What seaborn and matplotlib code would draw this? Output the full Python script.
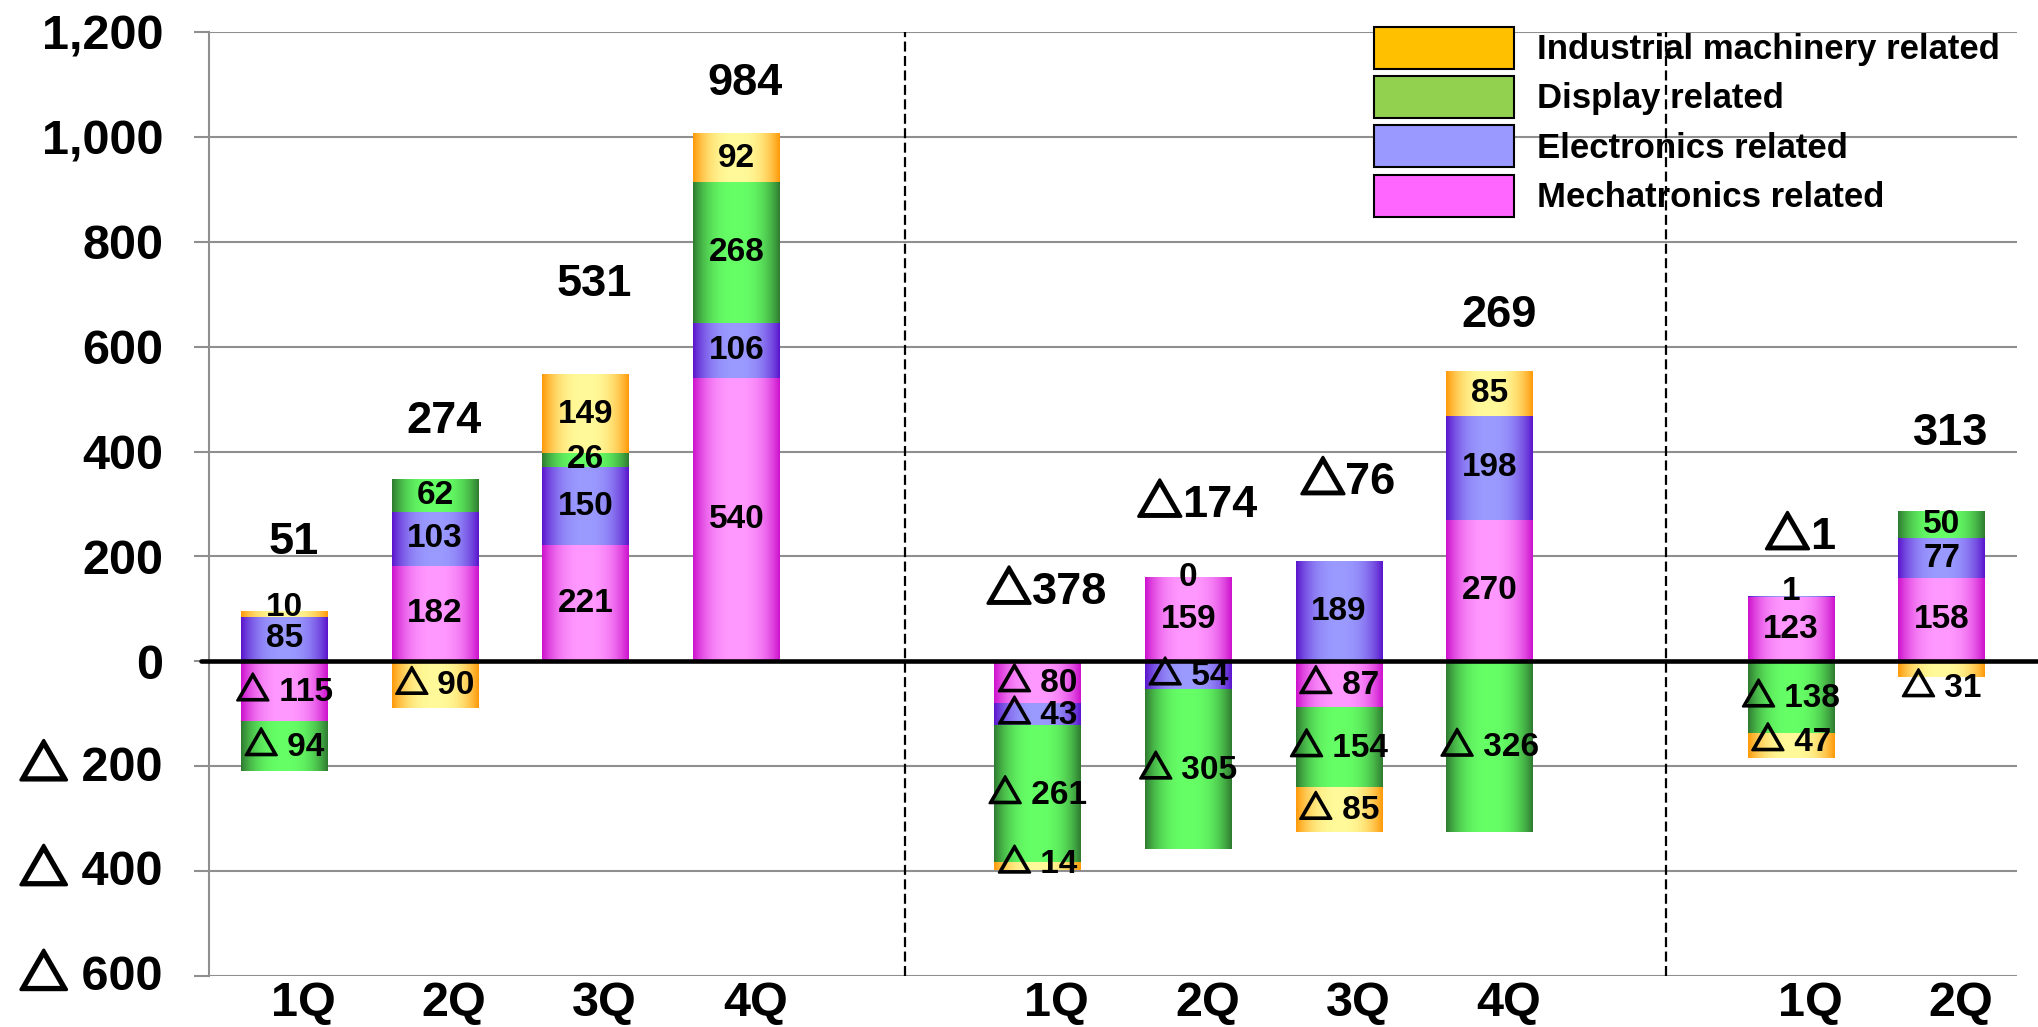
import numpy as np
import pandas as pd
import matplotlib
matplotlib.use("Agg")
import matplotlib.pyplot as plt
import seaborn as sns
from matplotlib.patches import Patch
from matplotlib.colors import to_rgb
from matplotlib.transforms import ScaledTranslation
from matplotlib.offsetbox import TextArea, HPacker, AnnotationBbox
from matplotlib import patheffects

# ---- data -------------------------------------------------------------
periods = ["p1", "p1", "p1", "p1", "p2", "p2", "p2", "p2", "p3", "p3"]
quarters = ["1Q", "2Q", "3Q", "4Q", "1Q", "2Q", "3Q", "4Q", "1Q", "2Q"]

mechatronics = [-115, 182, 221, 540, -80, 159, -87, 270, 123, 158]
electronics = [85, 103, 150, 106, -43, -54, 189, 198, 1, 77]
display = [-94, 62, 26, 268, -261, -305, -154, -326, -138, 50]
industrial = [10, -90, 149, 92, -14, 0, -85, 85, -47, -31]
totals = [51, 274, 531, 984, -378, -174, -76, 269, -1, 313]

series_names = ["Mechatronics related", "Electronics related",
                "Display related", "Industrial machinery related"]
y_ticks = [-600, -400, -200, 0, 200, 400, 600, 800, 1000, 1200]

# ---- styling ----------------------------------------------------------
sns.set_theme(style="white")
plt.rcParams["font.family"] = ["Liberation Sans", "Noto Sans CJK JP", "DejaVu Sans"]
plt.rcParams["font.weight"] = "bold"
for key in ("text.color", "axes.labelcolor", "xtick.labelcolor", "ytick.labelcolor"):
    plt.rcParams[key] = "black"

grid_gray = "#8f8f8f"
legend_colors = {
    "Industrial machinery related": "#FFC000",
    "Display related": "#92D050",
    "Electronics related": "#9999FF",
    "Mechatronics related": "#FF66FF",
}
# (edge colour, centre colour) of the horizontal bar shading
shades = {
    "Mechatronics related": ("#CC10CC", "#FF99FF"),
    "Electronics related": ("#5A14CC", "#9A9AFF"),
    "Display related": ("#2E7A30", "#66FF66"),
    "Industrial machinery related": ("#FF9808", "#FFFA9A"),
}

values = {
    "Mechatronics related": mechatronics,
    "Electronics related": electronics,
    "Display related": display,
    "Industrial machinery related": industrial,
}

slots = [f"{p}-{q}" for p, q in zip(periods, quarters)]
order = slots[:4] + ["gap-a"] + slots[4:8] + ["gap-b"] + slots[8:]
slot_pos = {s: i for i, s in enumerate(order)}
xpos = np.array([slot_pos[s] for s in slots], dtype=float)

fig = plt.figure(figsize=(20.38, 10.27), dpi=100)
ax = fig.add_axes([0.10255, 0.04995, 0.88715, 0.9186])

bar_w = 0.575


def shade_patch(patch, edge, center):
    x, y = patch.get_x(), patch.get_y()
    w, h = patch.get_width(), patch.get_height()
    if h == 0:
        patch.set_visible(False)
        return
    t = np.linspace(0.0, 1.0, 256)
    k = 1.0 - np.abs(2.0 * t - 1.0) ** 2.6
    e = np.array(to_rgb(edge))
    c = np.array(to_rgb(center))
    img = e[None, :] * (1 - k[:, None]) + c[None, :] * k[:, None]
    ax.imshow(img[None, :, :], extent=(x, x + w, min(y, y + h), max(y, y + h)),
              aspect="auto", interpolation="bilinear", zorder=2)
    patch.set_facecolor("none")
    patch.set_edgecolor("none")


def value_label(x, y, v, size, space=True, xycoords="data", align=(0.5, 0.5)):
    """Number label; negatives are written with a heavy triangle mark."""
    if v >= 0:
        parts = [TextArea(f"{v}", textprops=dict(fontsize=size, fontweight="bold",
                                                  color="black"))]
    else:
        tri = TextArea("△", textprops=dict(
            fontsize=size, fontweight="bold", color="black",
            family=["Noto Sans CJK JP", "DejaVu Sans"],
            path_effects=[patheffects.withStroke(linewidth=size * 0.065,
                                                 foreground="black")]))
        num = TextArea((" " if space else "") + f"{-v}",
                       textprops=dict(fontsize=size, fontweight="bold", color="black"))
        parts = [tri, num]
    box = HPacker(children=parts, align="baseline", pad=0, sep=0)
    ab = AnnotationBbox(box, (x, y), xycoords=xycoords, box_alignment=align,
                        frameon=False, pad=0, zorder=5, annotation_clip=False)
    ax.add_artist(ab)


label_nudge = {
    ("Industrial machinery related", 0): 12,
    ("Electronics related", 8): 10,
    ("Industrial machinery related", 4): 5,
    ("Industrial machinery related", 8): 9,
    ("Industrial machinery related", 9): -34,
}

pos_base = np.zeros(len(slots))
neg_base = np.zeros(len(slots))
for name in series_names:
    vals = np.array(values[name], dtype=float)
    bottoms = np.where(vals >= 0, pos_base, neg_base)
    df = pd.DataFrame({"slot": slots, "value": vals})
    n0 = len(ax.patches)
    sns.barplot(data=df, x="slot", y="value", order=order, width=bar_w,
                bottom=bottoms, color=legend_colors[name], errorbar=None,
                ax=ax, zorder=2)
    for p in ax.patches[n0:]:
        shade_patch(p, *shades[name])
    for i, v in enumerate(vals):
        yc = bottoms[i] + v / 2 + label_nudge.get((name, i), 0)
        value_label(xpos[i], yc, int(v), 24)
    pos_base = pos_base + np.where(vals >= 0, vals, 0)
    neg_base = neg_base + np.where(vals < 0, vals, 0)

# totals above each column
total_lift = [131, 110, 172, 97, 134, 141, 154, 107, 114, 149]
for i, tot in enumerate(totals):
    value_label(xpos[i] + 0.06, pos_base[i] + total_lift[i], tot, 32.5, space=False)

# axes, grid and separators
ax.set_xlim(-0.5, len(order) - 0.5)
ax.set_ylim(-600, 1200)
ax.set_yticks(y_ticks)
ax.set_yticklabels([f"{v:,}" if v >= 0 else "" for v in y_ticks])
for v in y_ticks:
    if v < 0:
        value_label(-0.0257, v, v, 35, xycoords=ax.get_yaxis_transform(),
                    align=(1.0, 0.5))
ax.yaxis.grid(True, color=grid_gray, linewidth=1.5, zorder=0)
ax.set_axisbelow(True)
for side in ("top", "right", "bottom"):
    ax.spines[side].set_visible(False)
ax.spines["left"].set_color(grid_gray)
ax.spines["left"].set_linewidth(1.5)
ax.tick_params(axis="y", length=11, width=1.5, color=grid_gray, pad=22,
               labelsize=35, left=True, labelcolor="black")
ax.tick_params(axis="x", length=0, pad=4, labelsize=35, labelcolor="black")
ax.set_xticks(xpos)
ax.set_xticklabels(quarters, fontweight="bold")
for lab in ax.get_yticklabels():
    lab.set_fontweight("bold")
shift = ScaledTranslation(0.19, 0, fig.dpi_scale_trans)
for lab in ax.get_xticklabels():
    lab.set_transform(lab.get_transform() + shift)
ax.set_xlabel("")
ax.set_ylabel("")

ax.plot([-0.0044, 1.011], [0, 0], transform=ax.get_yaxis_transform(),
        color="black", linewidth=3.3, clip_on=False, zorder=4)
for xs in (4.12, 9.17):
    ax.axvline(xs, color="black", linestyle=(0, (4.5, 2)), linewidth=1.6, zorder=6)

handles = [Patch(facecolor=legend_colors[n], edgecolor="black", linewidth=1.5)
           for n in series_names[::-1]]
ax.legend(handles, series_names[::-1], loc="upper left",
          bbox_to_anchor=(1374 / 2038, 1 - 26.7 / 1027),
          bbox_transform=fig.transFigure, frameon=False, borderpad=0,
          borderaxespad=0, handlelength=4.03, handleheight=1.485,
          handletextpad=0.66, labelspacing=0.21,
          prop={"size": 25, "weight": "bold"})

fig.savefig("out.png", dpi=100)
